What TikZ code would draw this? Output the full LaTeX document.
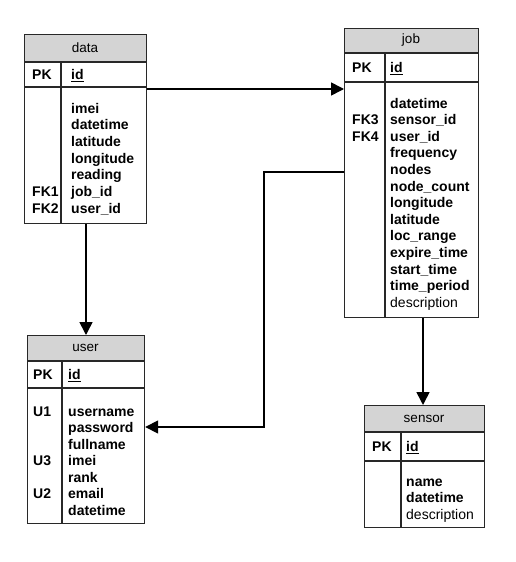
\documentclass[tikz,border=0pt]{standalone}
\usepackage{fontspec}
\setmainfont{Liberation Sans}
\usetikzlibrary{arrows.meta}
\definecolor{hdrgrey}{RGB}{212,212,212}
\definecolor{edge}{RGB}{40,40,40}
\tikzset{
  tbl/.style={draw=edge, line width=1.2pt, fill=none, inner sep=0pt, anchor=north west},
  hdr/.style={fill=hdrgrey},
  rule/.style={draw=edge, line width=1.2pt},
  ttl/.style={font=\fontsize{13.5}{15}\selectfont, inner sep=0pt},
  fld/.style={font=\fontsize{14}{16}\selectfont\bfseries, inner sep=0pt, anchor=base west},
  fldr/.style={font=\fontsize{14}{16}\selectfont, inner sep=0pt, anchor=base west},
  conn/.style={draw=black, line width=1.6pt, -{Triangle[length=13pt,width=13pt]}},
}
\begin{document}
\begin{tikzpicture}[x=1pt,y=-1pt]
\useasboundingbox[fill=white] (0,0) rectangle (516,562);

% ---------- data ----------
\fill[hdr] (24,34) rectangle (146,62);
\node[tbl, minimum width=122pt, minimum height=189pt] (data) at (24,34) {};
\draw[rule] (24,62) -- (146,62);
\draw[rule] (24,87) -- (146,87);
\draw[rule] (61,62) -- (61,223);
\node[ttl] (datat) at (85,48) {data};
\node[fld] (datapk) at (32,79.5) {PK};
\node[fld] (dataid) at (71,79.5) {\underline{id}};
\foreach \t [count=\i] in {imei,datetime,latitude,longitude,reading,job\_id,user\_id}
  \node[fld] (datf\i) at (71,{113+(\i-1)*16.7}) {\t};
\node[fld] (datk1) at (32,{113+5*16.7}) {FK1};
\node[fld] (datk2) at (32,{113+6*16.7}) {FK2};

% ---------- job ----------
\fill[hdr] (344,28) rectangle (478,53);
\node[tbl, minimum width=134pt, minimum height=289pt] (job) at (344,28) {};
\draw[rule] (344,53) -- (478,53);
\draw[rule] (344,82) -- (478,82);
\draw[rule] (385,53) -- (385,317);
\node[ttl] (jobt) at (411,40.5) {job};
\node[fld] (jobpk) at (352,72.5) {PK};
\node[fld] (jobid) at (390,72.5) {\underline{id}};
\foreach \t [count=\i] in {datetime,sensor\_id,user\_id,frequency,nodes,node\_count,longitude,latitude,loc\_range,expire\_time,start\_time,time\_period}
  \node[fld] (jobf\i) at (390,{108+(\i-1)*16.6}) {\t};
\node[fldr] (jobf13) at (390,{108+12*16.6}) {description};
\node[fld] (jobk3) at (352,{108+1*16.6}) {FK3};
\node[fld] (jobk4) at (352,{108+2*16.6}) {FK4};

% ---------- user ----------
\fill[hdr] (27,335) rectangle (144,361);
\node[tbl, minimum width=117pt, minimum height=188pt] (user) at (27,335) {};
\draw[rule] (27,361) -- (144,361);
\draw[rule] (27,388) -- (144,388);
\draw[rule] (62,361) -- (62,523);
\node[ttl] (usert) at (85.5,348) {user};
\node[fld] (userpk) at (33,379.5) {PK};
\node[fld] (userid) at (68,379.5) {\underline{id}};
\foreach \t [count=\i] in {username,password,fullname,imei,rank,email,datetime}
  \node[fld] (usrf\i) at (68,{416+(\i-1)*16.5}) {\t};
\node[fld] (usrk1) at (33,{416+0*16.5}) {U1};
\node[fld] (usrk3) at (33,{416+3*16.5}) {U3};
\node[fld] (usrk2) at (33,{416+5*16.5}) {U2};

% ---------- sensor ----------
\fill[hdr] (364,405) rectangle (484,432);
\node[tbl, minimum width=120pt, minimum height=122pt] (sensor) at (364,405) {};
\draw[rule] (364,432) -- (484,432);
\draw[rule] (364,461) -- (484,461);
\draw[rule] (401,432) -- (401,527);
\node[ttl] (sent) at (424,418.5) {sensor};
\node[fld] (senpk) at (372,451.5) {PK};
\node[fld] (senid) at (406,451.5) {\underline{id}};
\node[fld] (senf1) at (406,486) {name};
\node[fld] (senf2) at (406,502.5) {datetime};
\node[fldr] (senf3) at (406,519) {description};

% ---------- connectors ----------
\coordinate (r1) at (0,89);
\coordinate (c2) at (86,0);
\coordinate (r3) at (0,172);
\coordinate (b3) at (264,172);
\coordinate (b4) at (264,427);
\coordinate (c4) at (423,0);
\draw[conn] (data.east |- r1) -- (job.west |- r1);
\draw[conn] (data.south -| c2) -- (user.north -| c2);
\draw[conn] (job.west |- r3) -- (b3) -- (b4) -- (user.east |- b4);
\draw[conn] (job.south -| c4) -- (sensor.north -| c4);
\end{tikzpicture}
\end{document}
